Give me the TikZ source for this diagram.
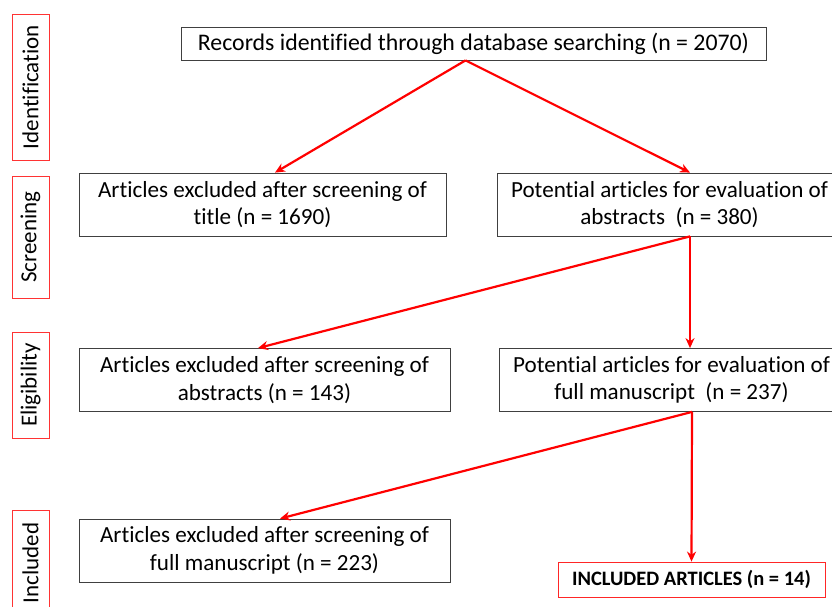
\documentclass[tikz,border=0pt]{standalone}
\usepackage{fontspec}
\setmainfont{Carlito}[Ligatures=NoCommon]
\usetikzlibrary{arrows.meta,positioning}
\tikzset{>/.tip={Stealth[length=10pt,width=9pt]}}

\begin{document}
\begin{tikzpicture}[x=1pt,y=-1pt,
    box/.style={draw=black!75,line width=0.8pt,minimum height=63pt,inner sep=0pt,
      align=center,font=\fontsize{23.1}{27.5}\selectfont},
    stage/.style={draw=red!80,line width=0.8pt,minimum height=37pt,inner sep=0pt,
      rotate=90,font=\fontsize{23}{27}\selectfont},
    flow/.style={draw=red,line width=2.2pt,->}]
        \useasboundingbox (0,0) rectangle (832,607);
        % phase labels
        \node(ident)[stage,minimum width=146pt] at (30.5,87){Identification};
        \node(screen)[stage,minimum width=122pt] at (30.5,237){Screening};
        \node(elig)[stage,minimum width=106pt] at (30.5,385){Eligibility};
        \node(incl)[stage,minimum width=106pt] at (30.5,563){Included};
        % boxes
        \node(rec)[box,minimum width=585pt,minimum height=33pt,
          font=\fontsize{23.8}{28}\selectfont] at (473.5,43.5)
          {Records identified through database searching (n = 2070)};
        \node(excl1)[box,minimum width=367pt] at (262.5,204.5)
          {Articles excluded after screening of\\title (n = 1690)};
        \node(pot1)[box,minimum width=345pt] at (669.5,204.5)
          {Potential articles for evaluation of\\abstracts\ \ (n = 380)};
        \node(excl2)[box,minimum width=371pt] at (264.5,380)
          {Articles excluded after screening of\\abstracts (n = 143)};
        \node(pot2)[box,minimum width=345pt] at (671.5,380)
          {Potential articles for evaluation of\\full manuscript\ \ (n = 237)};
        \node(excl3)[box,minimum width=371pt] at (264.5,550.5)
          {Articles excluded after screening of\\full manuscript (n = 223)};
        \node(final)[box,draw=red!85,minimum width=267pt,minimum height=35pt,
          font=\fontsize{20.5}{24}\selectfont\bfseries] at (691.5,579.5)
          {INCLUDED ARTICLES (n = 14)};
        % arrows
        \draw[flow] ([xshift=-8pt]rec.south) -- ([xshift=12.5pt]excl1.north);
        \draw[flow] ([xshift=-8pt]rec.south) -- ([xshift=20.5pt]pot1.north);
        \draw[flow] ([xshift=20.5pt]pot1.south) -- ([xshift=-6.5pt]excl2.north);
        \draw[flow] ([xshift=20.5pt]pot1.south) -- ([xshift=18.5pt]pot2.north);
        \draw[flow] ([xshift=20.5pt]pot2.south) -- ([xshift=15.5pt]excl3.north);
        \draw[flow] ([xshift=20.5pt]pot2.south) -- (final.north);
      \end{tikzpicture}
\end{document}
